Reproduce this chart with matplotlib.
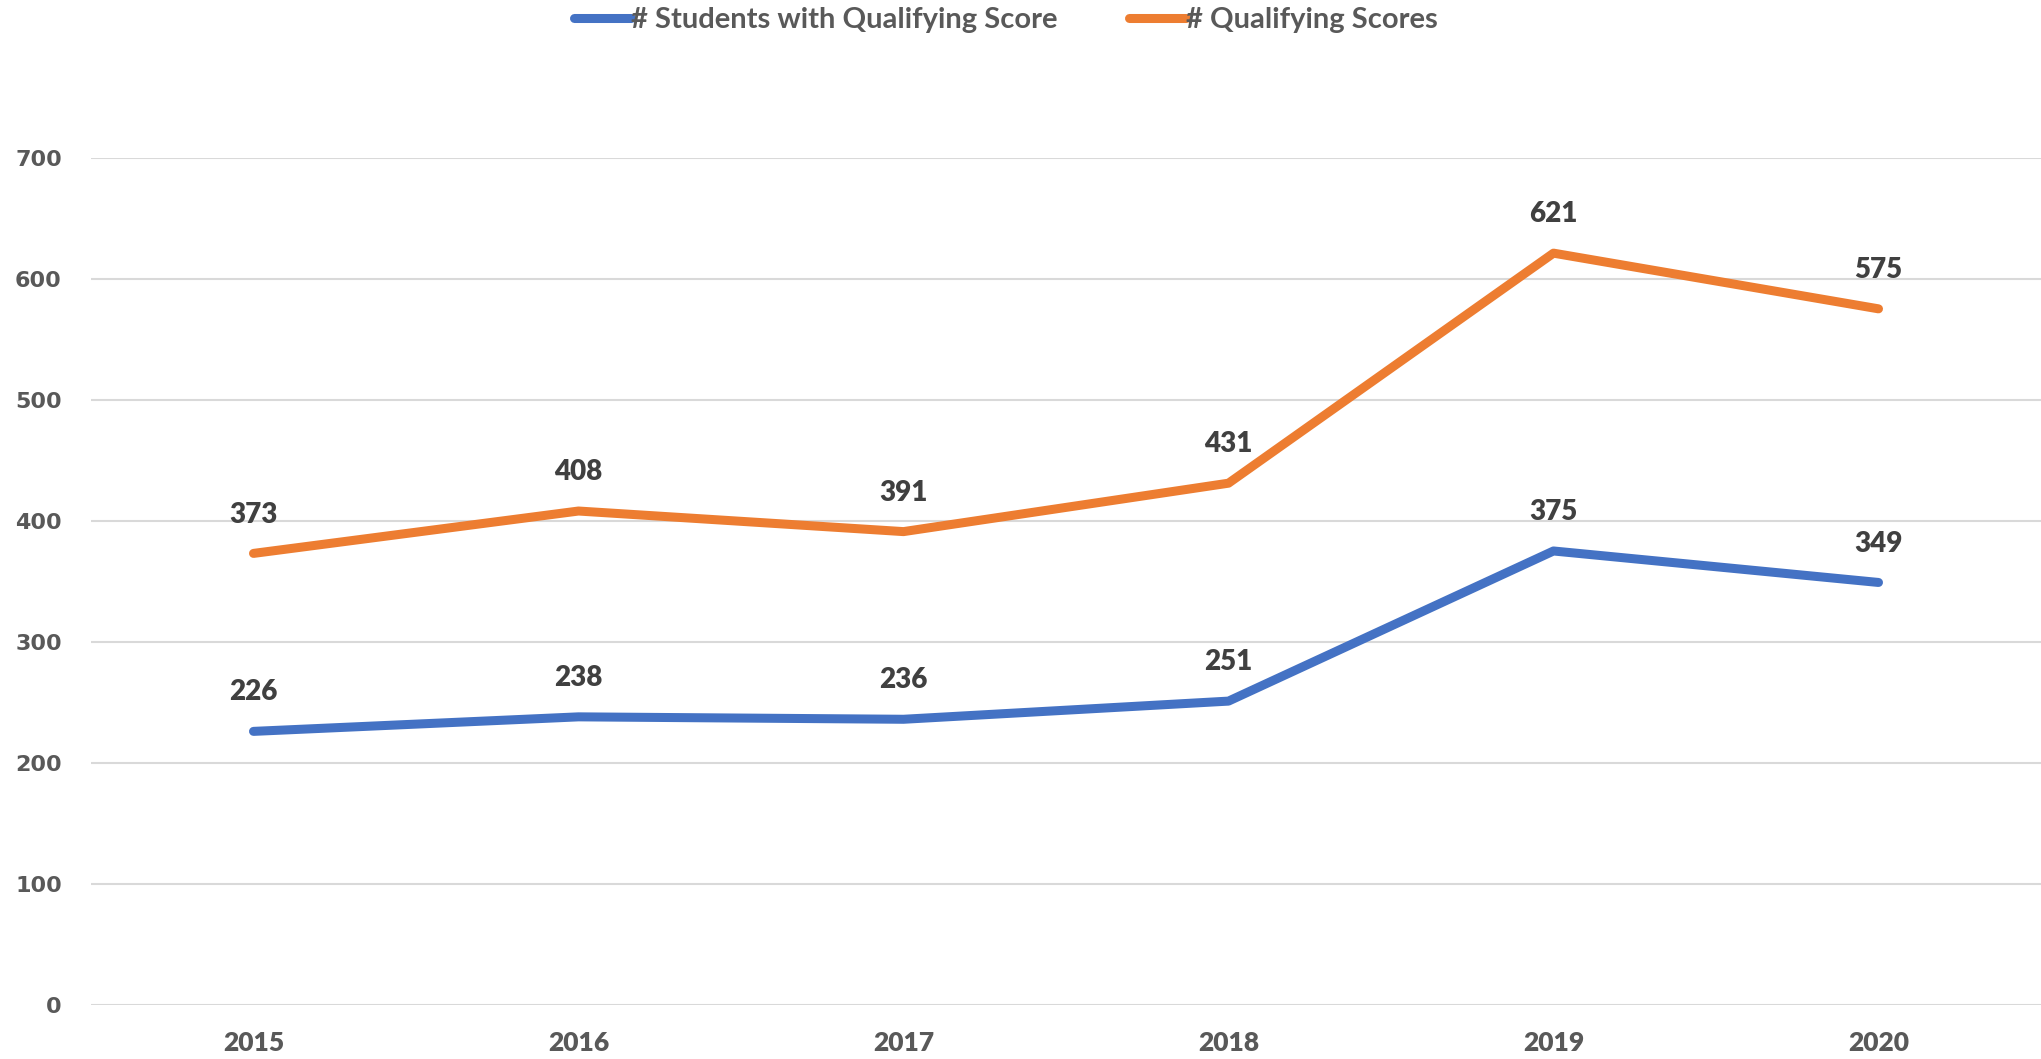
import matplotlib
matplotlib.use("Agg")
import matplotlib.pyplot as plt

years = ["2015", "2016", "2017", "2018", "2019", "2020"]
students = [226, 238, 236, 251, 375, 349]
scores = [373, 408, 391, 431, 621, 575]
yticks = [0, 100, 200, 300, 400, 500, 600, 700]

BLUE = "#4472C4"
ORANGE = "#ED7D31"
GRAY = "#595959"
LABEL = "#404040"

fig = plt.figure(figsize=(20.41, 10.59), dpi=100)
ax = fig.add_axes([91 / 2041, 1 - 1005 / 1059, 1 - 91 / 2041, (1005 - 157.5) / 1059])

x = list(range(len(years)))
l1, = ax.plot(x, students, color=BLUE, lw=6.5, solid_capstyle="round", solid_joinstyle="round",
              label="# Students with Qualifying Score", zorder=3)
l2, = ax.plot(x, scores, color=ORANGE, lw=6.5, solid_capstyle="round", solid_joinstyle="round",
              label="# Qualifying Scores", zorder=3)

for xs, ys in ((x, students), (x, scores)):
    for xi, yi in zip(xs, ys):
        ax.annotate(str(yi), (xi, yi), xytext=(0, 28), textcoords="offset points",
                    ha="center", va="center", fontsize=20, fontweight="heavy",
                    family="Lato", color=LABEL)

ax.set_xlim(-0.5, 5.5)
ax.set_ylim(0, 700)
ax.set_yticks(yticks)
ax.set_xticks(x)
ax.set_xticklabels(years, family="Lato", fontweight="heavy", fontsize=19, color=GRAY)
ax.set_yticklabels([str(v) for v in yticks], family="DejaVu Sans", fontweight="bold",
                   fontsize=16, color=GRAY)
ax.tick_params(axis="both", length=0)
ax.tick_params(axis="x", pad=19)
ax.tick_params(axis="y", pad=21)
ax.grid(axis="y", color="#D9D9D9", lw=1.5)
ax.set_axisbelow(True)
for s in ax.spines.values():
    s.set_visible(False)

leg = fig.legend(handles=[l1, l2], loc="center", bbox_to_anchor=(0.4930, 0.981), ncol=2,
                 frameon=False, handlelength=1.95, handletextpad=0.0, columnspacing=2.45,
                 prop={"family": "Lato", "size": 21, "weight": "bold"})
for t in leg.get_texts():
    t.set_color(GRAY)

fig.savefig("out.png", dpi=100)
